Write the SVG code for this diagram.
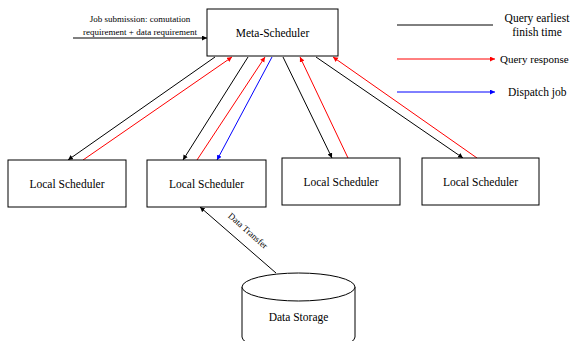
<svg xmlns="http://www.w3.org/2000/svg" width="570" height="341" viewBox="0 0 570 341">
<style>
text{font-family:"Liberation Serif","Times New Roman",serif;fill:#000}
.n{font-size:11.5px;text-anchor:middle}
.s{font-size:9px;text-anchor:middle}
.l{font-size:11.5px}
.box{fill:#fff;stroke:#000;stroke-width:1}
.k{stroke:#000;stroke-width:1;fill:none;marker-end:url(#ak)}
.r{stroke:#f00;stroke-width:1;fill:none;marker-end:url(#ar)}
.b{stroke:#00f;stroke-width:1;fill:none;marker-end:url(#ab)}
</style>
<defs>
<marker id="ak" markerUnits="userSpaceOnUse" markerWidth="6" markerHeight="6" refX="5" refY="2.5" orient="auto"><path d="M0,0 L5,2.5 L0,5 z" fill="#000"/></marker>
<marker id="ar" markerUnits="userSpaceOnUse" markerWidth="6" markerHeight="6" refX="5" refY="2.5" orient="auto"><path d="M0,0 L5,2.5 L0,5 z" fill="#f00"/></marker>
<marker id="ab" markerUnits="userSpaceOnUse" markerWidth="6" markerHeight="6" refX="5" refY="2.5" orient="auto"><path d="M0,0 L5,2.5 L0,5 z" fill="#00f"/></marker>
</defs>
<rect width="570" height="341" fill="#fff"/>
<g id="connectors">
<line class="k" x1="73" y1="38" x2="207" y2="38"/>
<line class="k" x1="215" y1="57" x2="68" y2="160"/>
<line class="r" x1="83" y1="160" x2="232" y2="57"/>
<line class="k" x1="248" y1="57" x2="183" y2="160"/>
<line class="r" x1="197" y1="160" x2="265" y2="57"/>
<line class="b" x1="272" y1="57" x2="217" y2="160"/>
<line class="k" x1="283" y1="57" x2="332" y2="158"/>
<line class="r" x1="348" y1="158" x2="300" y2="57"/>
<line class="k" x1="316" y1="57" x2="463" y2="158"/>
<line class="r" x1="477" y1="158" x2="333" y2="57"/>
<line class="k" x1="276" y1="273" x2="200" y2="207"/>
<line stroke="#000" stroke-width="1" x1="397" y1="25" x2="493" y2="25"/>
<line class="r" x1="397" y1="59" x2="495" y2="59"/>
<line class="b" x1="397" y1="92" x2="495" y2="92"/>
</g>
<g id="labels">
<text class="s" x="140" y="22">Job submission: comutation</text>
<text class="s" x="140" y="35">requirement + data requirement</text>
<text class="s" transform="translate(246,233) rotate(41.5)">Data Transfer</text>
<text class="l" x="537" y="22" text-anchor="middle">Query earliest</text>
<text class="l" x="537" y="36" text-anchor="middle">finish time</text>
<text class="l" x="500" y="63" style="font-size:11px">Query response</text>
<text class="l" x="508" y="96">Dispatch job</text>
</g>
<g id="meta">
<rect class="box" x="207" y="9" width="131" height="47"/>
<text class="n" x="272.5" y="37">Meta-Scheduler</text>
</g>
<g id="local1">
<rect class="box" x="8" y="160" width="118" height="47"/>
<text class="n" x="67" y="188">Local Scheduler</text>
</g>
<g id="local2">
<rect class="box" x="147" y="160" width="119" height="47"/>
<text class="n" x="206.5" y="188">Local Scheduler</text>
</g>
<g id="local3">
<rect class="box" x="282" y="158" width="118" height="47"/>
<text class="n" x="341" y="186">Local Scheduler</text>
</g>
<g id="local4">
<rect class="box" x="422" y="158" width="117" height="47"/>
<text class="n" x="480.5" y="186">Local Scheduler</text>
</g>
<g id="storage">
<path class="box" d="M242,287 L242,337 A56.5,14 0 0 0 355,337 L355,287"/>
<ellipse class="box" cx="298.5" cy="287" rx="56.5" ry="14"/>
<text class="n" x="298.5" y="321">Data Storage</text>
</g>
</svg>
